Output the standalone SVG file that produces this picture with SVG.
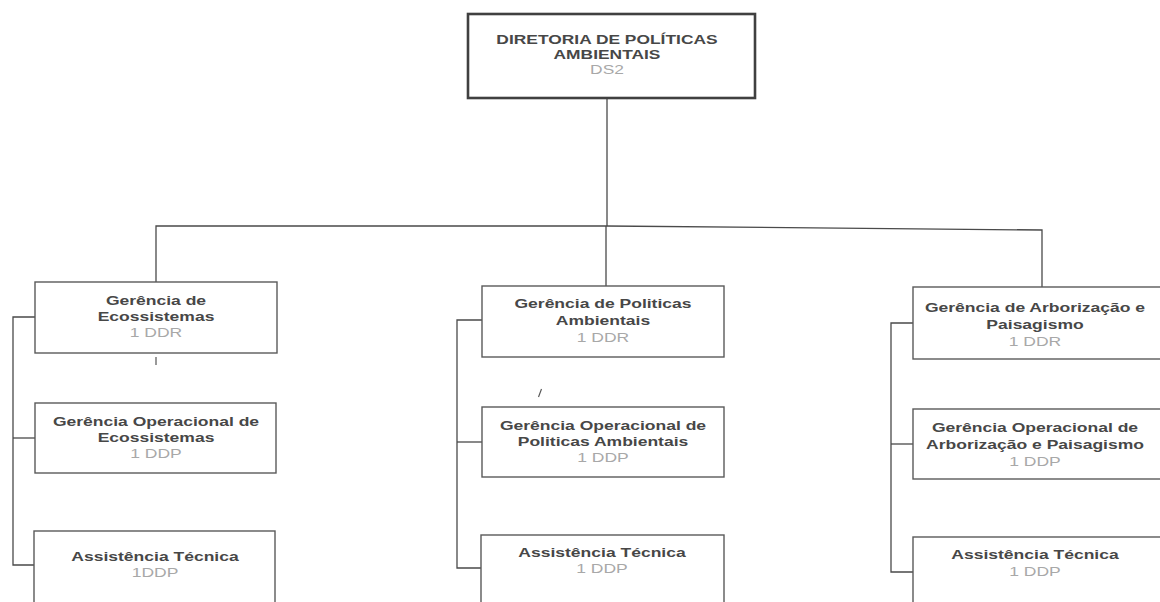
<svg xmlns="http://www.w3.org/2000/svg" width="1160" height="602" viewBox="0 0 1160 602">
<style>
.bg{fill:#ffffff}
.box{fill:#ffffff;stroke:#5a5a5a;stroke-width:1.4}
.top{fill:#ffffff;stroke:#404040;stroke-width:2.6}
.con{fill:none;stroke:#4a4a4a;stroke-width:1.3}
.mark{fill:none;stroke:#555;stroke-width:1.2}
.t{font-family:"Liberation Sans",Arial,sans-serif;font-size:12px;font-weight:bold;fill:#474747;text-anchor:middle}
.c{font-family:"Liberation Sans",Arial,sans-serif;font-size:12px;fill:#a8a8a8;text-anchor:middle}
</style>
<rect class="bg" x="0" y="0" width="1160" height="602"/>
<g id="connectors">
<polyline class="con" points="607,98 607,226"/>
<polyline class="con" points="156,282 156,226 606,226 1042,230 1042,287"/>
<polyline class="con" points="606,226 606,286"/>
<polyline class="con" points="35,317 13,317 13,565 35,565"/>
<line class="con" x1="13" y1="438" x2="35" y2="438"/>
<polyline class="con" points="482,320 457,320 457,568 481,568"/>
<line class="con" x1="457" y1="442" x2="482" y2="442"/>
<polyline class="con" points="913,323 891,323 891,572 913,572"/>
<line class="con" x1="891" y1="444" x2="913" y2="444"/>
<line class="mark" x1="156" y1="357" x2="156" y2="365"/>
<line class="mark" x1="538.5" y1="397" x2="541.5" y2="389"/>
</g>
<g id="diretoria">
<rect class="top" x="468" y="14" width="287" height="84"/>
<g transform="translate(607 0) scale(1.45 1)">
<text class="t" x="0" y="44">DIRETORIA DE POLÍTICAS</text>
<text class="t" x="0" y="59">AMBIENTAIS</text>
<text class="c" x="0" y="74">DS2</text>
</g>
</g>
<g id="ger-ecossistemas">
<rect class="box" x="35" y="282" width="242" height="71"/>
<g transform="translate(156 0) scale(1.46 1)">
<text class="t" x="0" y="305">Gerência de</text>
<text class="t" x="0" y="321">Ecossistemas</text>
<text class="c" x="0" y="337">1 DDR</text>
</g>
</g>
<g id="gerop-ecossistemas">
<rect class="box" x="35" y="403" width="241" height="70"/>
<g transform="translate(156 0) scale(1.46 1)">
<text class="t" x="0" y="426">Gerência Operacional de</text>
<text class="t" x="0" y="442">Ecossistemas</text>
<text class="c" x="0" y="458">1 DDP</text>
</g>
</g>
<g id="assist-ecossistemas">
<rect class="box" x="34" y="531" width="241" height="80"/>
<g transform="translate(155 0) scale(1.46 1)">
<text class="t" x="0" y="561">Assistência Técnica</text>
<text class="c" x="0" y="577">1DDP</text>
</g>
</g>
<g id="ger-politicas">
<rect class="box" x="482" y="286" width="242" height="71"/>
<g transform="translate(603 0) scale(1.46 1)">
<text class="t" x="0" y="308">Gerência de Politicas</text>
<text class="t" x="0" y="325">Ambientais</text>
<text class="c" x="0" y="342">1 DDR</text>
</g>
</g>
<g id="gerop-politicas">
<rect class="box" x="482" y="407" width="242" height="70"/>
<g transform="translate(603 0) scale(1.46 1)">
<text class="t" x="0" y="430">Gerência Operacional de</text>
<text class="t" x="0" y="446">Politicas Ambientais</text>
<text class="c" x="0" y="462">1 DDP</text>
</g>
</g>
<g id="assist-politicas">
<rect class="box" x="481" y="535" width="243" height="80"/>
<g transform="translate(602 0) scale(1.46 1)">
<text class="t" x="0" y="557">Assistência Técnica</text>
<text class="c" x="0" y="573">1 DDP</text>
</g>
</g>
<g id="ger-arborizacao">
<rect class="box" x="913" y="287" width="255" height="72"/>
<g transform="translate(1035 0) scale(1.46 1)">
<text class="t" x="0" y="312">Gerência de Arborização e</text>
<text class="t" x="0" y="329">Paisagismo</text>
<text class="c" x="0" y="346">1 DDR</text>
</g>
</g>
<g id="gerop-arborizacao">
<rect class="box" x="913" y="409" width="255" height="70"/>
<g transform="translate(1035 0) scale(1.46 1)">
<text class="t" x="0" y="432">Gerência Operacional de</text>
<text class="t" x="0" y="449">Arborização e Paisagismo</text>
<text class="c" x="0" y="466">1 DDP</text>
</g>
</g>
<g id="assist-arborizacao">
<rect class="box" x="913" y="537" width="255" height="80"/>
<g transform="translate(1035 0) scale(1.46 1)">
<text class="t" x="0" y="559">Assistência Técnica</text>
<text class="c" x="0" y="576">1 DDP</text>
</g>
</g>
</svg>
